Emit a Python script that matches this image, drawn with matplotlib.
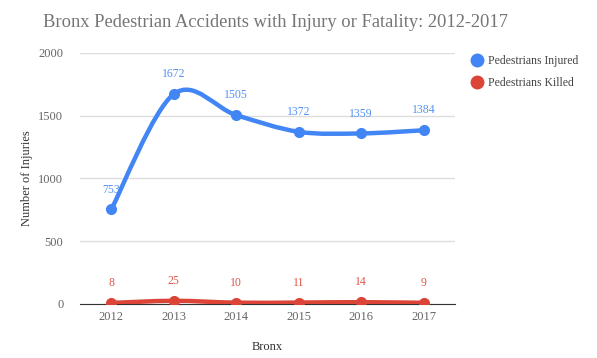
import numpy as np
import matplotlib.pyplot as plt
from matplotlib.path import Path
from matplotlib.patches import PathPatch
from matplotlib.lines import Line2D

plt.rcParams['font.family'] = ['Liberation Serif', 'DejaVu Serif']

years = [2012, 2013, 2014, 2015, 2016, 2017]
injured = [753, 1672, 1505, 1372, 1359, 1384]
killed = [8, 25, 10, 11, 14, 9]

blue = '#4285f4'
red = '#db4437'


def smooth_path(xs, ys):
    # cubic bezier through the points (catmull-rom style control points)
    xs = np.asarray(xs, float)
    ys = np.asarray(ys, float)
    n = len(xs)
    verts = [(xs[0], ys[0])]
    codes = [Path.MOVETO]
    for i in range(n - 1):
        p0 = np.array([xs[max(i - 1, 0)], ys[max(i - 1, 0)]])
        p1 = np.array([xs[i], ys[i]])
        p2 = np.array([xs[i + 1], ys[i + 1]])
        p3 = np.array([xs[min(i + 2, n - 1)], ys[min(i + 2, n - 1)]])
        c1 = p1 + (p2 - p0) / 6
        c2 = p2 - (p3 - p1) / 6
        verts += [tuple(c1), tuple(c2), tuple(p2)]
        codes += [Path.CURVE4] * 3
    return Path(verts, codes)


fig = plt.figure(figsize=(5.97, 3.58), dpi=100)
ax = fig.add_axes([0.134, 0.151, 0.628, 0.701])

for vals, col in [(injured, blue), (killed, red)]:
    ax.add_patch(PathPatch(smooth_path(years, vals), fill=False, edgecolor=col,
                           lw=3.2, capstyle='round', joinstyle='round', zorder=3))
    ax.plot(years, vals, 'o', color=col, ms=7, zorder=4)
    for x, v in zip(years, vals):
        ax.annotate(str(v), (x, v), xytext=(0, 10), textcoords='offset points',
                    ha='center', va='bottom', color=col, fontsize=8.5, alpha=0.9)

ax.set_xlim(2011.5, 2017.5)
ax.set_ylim(0, 2000)
ax.set_yticks([0, 500, 1000, 1500, 2000])
ax.set_xticks(years)
ax.grid(axis='y', color='#dddddd', lw=1)
ax.set_axisbelow(True)
for s in ['top', 'right', 'left']:
    ax.spines[s].set_visible(False)
ax.spines['bottom'].set_color('#333333')
ax.tick_params(length=0, labelsize=9, labelcolor='#666666')
ax.tick_params(axis='x', pad=5)
ax.tick_params(axis='y', pad=12)

ax.set_ylabel('Number of Injuries', fontsize=9, color='#333333', va='center')
ax.yaxis.set_label_coords(-0.141, 0.5)
ax.set_xlabel('Bronx', fontsize=9, color='#333333', va='center')
ax.xaxis.set_label_coords(0.5, -0.171)

fig.text(0.072, 0.937, 'Bronx Pedestrian Accidents with Injury or Fatality: 2012-2017',
         fontsize=13.3, color='#757575', va='center', ha='left')

handles = [Line2D([], [], ls='', marker='o', ms=9, color=blue),
           Line2D([], [], ls='', marker='o', ms=9, color=red)]
fig.legend(handles, ['Pedestrians Injured', 'Pedestrians Killed'],
           loc='upper left', bbox_to_anchor=(0.77, 0.875), frameon=False,
           fontsize=8.5, labelcolor='#444444', handletextpad=0.3, labelspacing=0.8,
           handlelength=1.2)

fig.savefig('out.png', dpi=100)
